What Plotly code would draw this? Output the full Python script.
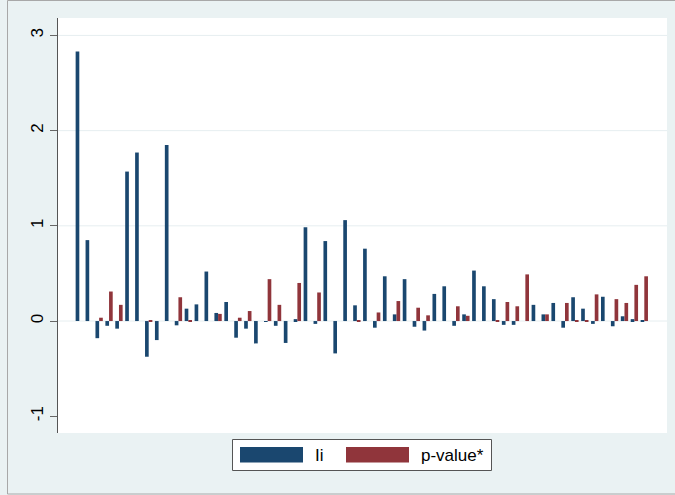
import plotly.graph_objects as go

# Observation index (one group of two bars per unit)
units = list(range(58))

# Local indicator values
ii = [2.83, 0.85, -0.18, -0.05, -0.08, 1.57, 1.77, -0.375, -0.20, 1.85,
      -0.045, 0.13, 0.175, 0.52, 0.085, 0.20, -0.175, -0.08, -0.235, -0.005,
      -0.05, -0.23, 0.02, 0.985, -0.03, 0.84, -0.34, 1.06, 0.165, 0.76,
      -0.07, 0.47, 0.07, 0.44, -0.06, -0.10, 0.285, 0.365, -0.05, 0.07,
      0.53, 0.365, 0.23, -0.04, -0.04, None, 0.17, 0.07, 0.19, -0.07,
      0.25, 0.13, -0.03, 0.255, -0.055, 0.05, 0.02, 0.005]

# Corresponding p-values
pval = [None, None, 0.035, 0.31, 0.17, None, None, 0.002, None, None,
        0.25, 0.002, None, None, 0.075, None, 0.035, 0.105, None, 0.44,
        0.17, None, 0.40, None, 0.30, None, None, None, 0.002, None,
        0.09, None, 0.21, None, 0.14, 0.06, None, None, 0.155, 0.055,
        None, None, 0.002, 0.20, 0.155, 0.49, None, 0.07, None, 0.19,
        0.002, 0.01, 0.28, None, 0.23, 0.19, 0.38, 0.47]

y_ticks = [-1, 0, 1, 2, 3]
grid_levels = [0, 1, 2, 3]

NAVY = "#1A476F"
MAROON = "#90353B"
OUTER_BG = "#EAF2F3"
FONT = "Liberation Sans, Arial, sans-serif"

fig = go.Figure()
fig.add_trace(go.Bar(x=units, y=ii, name="Ii", marker=dict(color=NAVY, line=dict(width=0))))
fig.add_trace(go.Bar(x=units, y=pval, name="p-value*", marker=dict(color=MAROON, line=dict(width=0))))

W, H = 675, 495
L, R, T, B = 58, 8, 18, 62
pw, ph = W - L - R, H - T - B


def px(x):
    return (x - L) / pw


def py(y):
    return (H - B - y) / ph


shapes = []
# horizontal gridlines
for g in grid_levels:
    shapes.append(dict(type="line", xref="paper", yref="y", x0=0, x1=1, y0=g, y1=g,
                       line=dict(color="#E6EEF0", width=1), layer="below"))
# outer frame line (left, top, bottom)
shapes.append(dict(type="line", xref="paper", yref="paper", x0=px(7.5), x1=px(7.5),
                   y0=py(0.5), y1=py(494), line=dict(color="#A8A8A8", width=1)))
shapes.append(dict(type="line", xref="paper", yref="paper", x0=px(7.5), x1=px(700),
                   y0=py(0.5), y1=py(0.5), line=dict(color="#A8A8A8", width=1)))
shapes.append(dict(type="line", xref="paper", yref="paper", x0=px(7.5), x1=px(700),
                   y0=py(494), y1=py(494), line=dict(color="#A8A8A8", width=1)))
# legend box
shapes.append(dict(type="rect", xref="paper", yref="paper", x0=px(232.5), x1=px(491.5),
                   y0=py(470.5), y1=py(439.5), fillcolor="white",
                   line=dict(color="#555555", width=1)))
# legend swatches
shapes.append(dict(type="rect", xref="paper", yref="paper", x0=px(240), x1=px(303),
                   y0=py(462.5), y1=py(447), fillcolor=NAVY, line=dict(width=0)))
shapes.append(dict(type="rect", xref="paper", yref="paper", x0=px(346), x1=px(409),
                   y0=py(462.5), y1=py(447), fillcolor=MAROON, line=dict(width=0)))

annotations = [
    dict(text="Ii", xref="paper", yref="paper", x=px(313), y=py(455), xanchor="left",
         yanchor="middle", showarrow=False, font=dict(family=FONT, size=17, color="black")),
    dict(text="p-value*", xref="paper", yref="paper", x=px(419), y=py(455), xanchor="left",
         yanchor="middle", showarrow=False, font=dict(family=FONT, size=17, color="black")),
]

fig.update_layout(
    width=W, height=H,
    margin=dict(l=L, r=R, t=T, b=B, pad=0),
    paper_bgcolor=OUTER_BG,
    plot_bgcolor="white",
    barmode="group",
    bargap=0.26,
    bargroupgap=0,
    showlegend=False,
    shapes=shapes,
    annotations=annotations,
    font=dict(family=FONT, size=17, color="black"),
)
fig.update_xaxes(range=[-2.15, 59.29], showgrid=False, zeroline=False, showticklabels=False,
                 ticks="", showline=False)
fig.update_yaxes(range=[-1.176, 3.183], tickvals=y_ticks, ticktext=[str(v) for v in y_ticks],
                 tickangle=-90, ticks="outside", ticklen=7, tickcolor="#666666",
                 showline=True, linecolor="#555555", linewidth=1,
                 showgrid=False, zeroline=False,
                 tickfont=dict(family=FONT, size=17, color="black"))

fig.write_html("out.html")
